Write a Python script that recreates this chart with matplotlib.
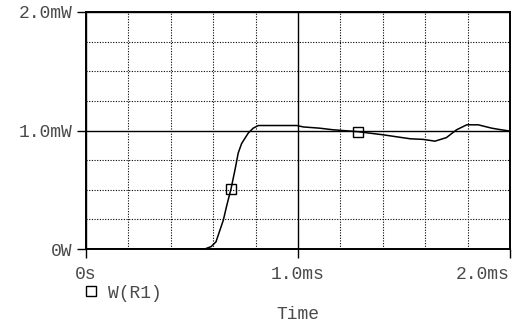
"""
Recria o grafico de potencia W(R1) no estilo PSpice.
Saida: out.png
"""

import matplotlib.pyplot as plt
import numpy as np

IMG_OUT = "out.png"

# Tempo (ms) e potencia (mW)
tempo_ms = [0.0, 0.56, 0.59, 0.613, 0.648, 0.663, 0.684, 0.703, 0.718, 0.734,
            0.766, 0.789, 0.813, 0.994, 1.025, 1.10, 1.166, 1.283, 1.40, 1.53,
            1.59, 1.646, 1.70, 1.748, 1.796, 1.85, 1.913, 1.945, 2.0]
potencia_mw = [0.0, 0.0, 0.02, 0.06, 0.245, 0.36, 0.507, 0.67, 0.81, 0.89,
               0.98, 1.02, 1.042, 1.042, 1.03, 1.02, 1.006, 0.99, 0.964, 0.93,
               0.925, 0.91, 0.94, 1.006, 1.048, 1.048, 1.02, 1.01, 0.995]
idx_marcadores = [6, 17]

xticks = [0.0, 1.0, 2.0]
xticklabels = ["0s", "1.0ms", "2.0ms"]
yticks = [0.0, 1.0, 2.0]
yticklabels = ["0W", "1.0mW", "2.0mW"]
serie_nome = "W(R1)"
eixo_x_nome = "Time"

COR_TEXTO = "#4a4a4a"
FONTE = ["Liberation Mono", "DejaVu Sans Mono"]
TAM = 13


def main() -> None:
    plt.rcParams["font.family"] = FONTE
    fig = plt.figure(figsize=(5.14, 3.26), dpi=100)
    ax = fig.add_axes([86 / 514, 77 / 326, 424 / 514, 237 / 326])

    t = np.array(tempo_ms)
    p = np.array(potencia_mw)

    ax.plot(t, p, color="black", lw=1.1, zorder=3)
    ax.plot(t, p, ls="none", marker="s", ms=6.8, mfc="none", mec="black",
            mew=1.0, markevery=idx_marcadores, label=serie_nome, zorder=4)

    ax.set_xlim(0, 2.0)
    ax.set_ylim(0, 2.0)

    ax.set_xticks(xticks)
    ax.set_xticklabels(xticklabels)
    ax.set_yticks(yticks)
    ax.set_yticklabels(yticklabels)
    ax.set_xticks(np.arange(0, 2.01, 0.2), minor=True)
    ax.set_yticks(np.arange(0, 2.01, 0.25), minor=True)

    ax.tick_params(which="major", direction="out", length=6.2, width=1.0,
                   color="black", labelsize=TAM, labelcolor=COR_TEXTO)
    ax.tick_params(axis="y", which="major", pad=3.5)
    ax.tick_params(axis="x", which="major", pad=6.0)
    ax.tick_params(which="minor", length=0)
    ax.get_xticklabels()[-1].set_ha("right")

    ax.grid(which="minor", color="black", ls=(0, (1, 1.4)), lw=0.8)
    ax.grid(which="major", color="black", ls="-", lw=1.0)
    ax.set_axisbelow(True)

    for sp in ax.spines.values():
        sp.set_linewidth(1.4)
        sp.set_color("black")

    # Rotulo do eixo x
    ax.set_xlabel(eixo_x_nome, fontsize=TAM, color=COR_TEXTO)
    ax.xaxis.set_label_coords(0.5, -0.278)
    ax.xaxis.label.set_va("center")

    # Legenda
    ax.legend(loc="center left", bbox_to_anchor=(83 / 514, 1 - 293 / 326),
              bbox_transform=fig.transFigure, frameon=False, fontsize=TAM,
              handlelength=0.85, handletextpad=0.55, borderpad=0, borderaxespad=0,
              labelcolor=COR_TEXTO)

    fig.savefig(IMG_OUT, dpi=100)
    plt.close(fig)


if __name__ == "__main__":
    main()
